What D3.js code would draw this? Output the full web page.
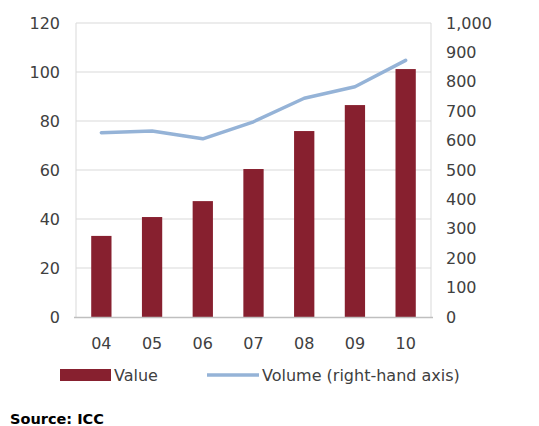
<!DOCTYPE html>
<html>
<head>
<meta charset="utf-8">
<script src="https://cdn.jsdelivr.net/npm/d3@7"></script>
<style>
  html, body { margin: 0; padding: 0; background: #fff; }
  svg { display: block; }
  text { font-family: "DejaVu Sans", Verdana, sans-serif; }
</style>
</head>
<body>
<svg id="chart" width="539" height="426"></svg>
<script>
// Years shown on the category axis
const years = ["04", "05", "06", "07", "08", "09", "10"];
// Bar series (left axis)
const valueSeries = [33.1, 40.8, 47.3, 60.4, 75.9, 86.5, 101.2];
// Line series (right axis)
const volumeSeries = [627, 633, 606, 664, 744, 783, 873];
// Axis ticks
const leftTicks = [0, 20, 40, 60, 80, 100, 120];
const rightTicks = [0, 100, 200, 300, 400, 500, 600, 700, 800, 900, 1000];
const seriesNames = ["Value", "Volume (right-hand axis)"];

const barColor = "#87202F";
const lineColor = "#95B3D7";
const textColor = "#404040";
const gridColor = "#D9D9D9";

const svg = d3.select("#chart");
const plot = { left: 76, right: 431, top: 23, bottom: 317 };

const x = d3.scaleBand().domain(years).range([plot.left, plot.right]).paddingInner(0.6).paddingOuter(0.3);
const xPoint = d3.scaleBand().domain(years).range([plot.left, plot.right]);
const yLeft = d3.scaleLinear().domain([0, 120]).range([plot.bottom, plot.top]);
const yRight = d3.scaleLinear().domain([0, 1000]).range([plot.bottom, plot.top]);

// Horizontal gridlines
svg.append("g").selectAll("line").data(leftTicks.filter(d => d > 0)).join("line")
  .attr("x1", plot.left).attr("x2", plot.right)
  .attr("y1", d => yLeft(d)).attr("y2", d => yLeft(d))
  .attr("stroke", gridColor).attr("stroke-width", 1);

// Plot frame sides
svg.append("line").attr("x1", plot.left).attr("x2", plot.left).attr("y1", plot.top).attr("y2", plot.bottom)
  .attr("stroke", gridColor);
svg.append("line").attr("x1", plot.right).attr("x2", plot.right).attr("y1", plot.top).attr("y2", plot.bottom)
  .attr("stroke", gridColor);

// Bars
svg.append("g").selectAll("rect").data(years).join("rect")
  .attr("x", (d) => x(d))
  .attr("width", x.bandwidth())
  .attr("y", (d, i) => yLeft(valueSeries[i]))
  .attr("height", (d, i) => plot.bottom - yLeft(valueSeries[i]))
  .attr("fill", barColor);

// Category axis baseline
svg.append("line").attr("x1", plot.left - 2).attr("x2", plot.right + 2)
  .attr("y1", plot.bottom + 0.5).attr("y2", plot.bottom + 0.5)
  .attr("stroke", "#BFBFBF").attr("stroke-width", 1.5);

// Volume line
const line = d3.line()
  .x((d, i) => xPoint(years[i]) + xPoint.bandwidth() / 2)
  .y(d => yRight(d));
svg.append("path").datum(volumeSeries)
  .attr("d", line)
  .attr("fill", "none")
  .attr("stroke", lineColor)
  .attr("stroke-width", 3.5)
  .attr("stroke-linejoin", "round")
  .attr("stroke-linecap", "round");

// Left axis
const leftAxis = d3.axisLeft(yLeft).tickValues(leftTicks).tickSize(0).tickPadding(16);
const gl = svg.append("g").attr("transform", `translate(${plot.left},0)`).call(leftAxis);
gl.select(".domain").remove();
gl.selectAll("text").attr("fill", textColor).style("font-size", "16px");

// Right axis
const rightAxis = d3.axisRight(yRight).tickValues(rightTicks).tickSize(0).tickPadding(15)
  .tickFormat(d3.format(","));
const gr = svg.append("g").attr("transform", `translate(${plot.right},0)`).call(rightAxis);
gr.select(".domain").remove();
gr.selectAll("text").attr("fill", textColor).style("font-size", "16px");

// Category axis
const bottomAxis = d3.axisBottom(xPoint).tickSize(0).tickPadding(21);
const gb = svg.append("g").attr("transform", `translate(0,${plot.bottom})`).call(bottomAxis);
gb.select(".domain").remove();
gb.selectAll("text").attr("fill", textColor).style("font-size", "16px");

// Legend
const legend = svg.append("g");
legend.append("rect").attr("x", 60).attr("y", 369).attr("width", 51).attr("height", 12).attr("fill", barColor);
legend.append("text").attr("x", 114).attr("y", 381).attr("fill", textColor)
  .style("font-size", "16px").text(seriesNames[0]);
legend.append("line").attr("x1", 207).attr("x2", 259).attr("y1", 375).attr("y2", 375)
  .attr("stroke", lineColor).attr("stroke-width", 3.5);
legend.append("text").attr("x", 262).attr("y", 381).attr("fill", textColor)
  .style("font-size", "16px").text(seriesNames[1]);

// Source note
svg.append("text").attr("x", 10).attr("y", 424).attr("fill", "#000")
  .style("font-size", "14.5px").style("font-weight", "bold").text("Source: ICC");
</script>
</body>
</html>
